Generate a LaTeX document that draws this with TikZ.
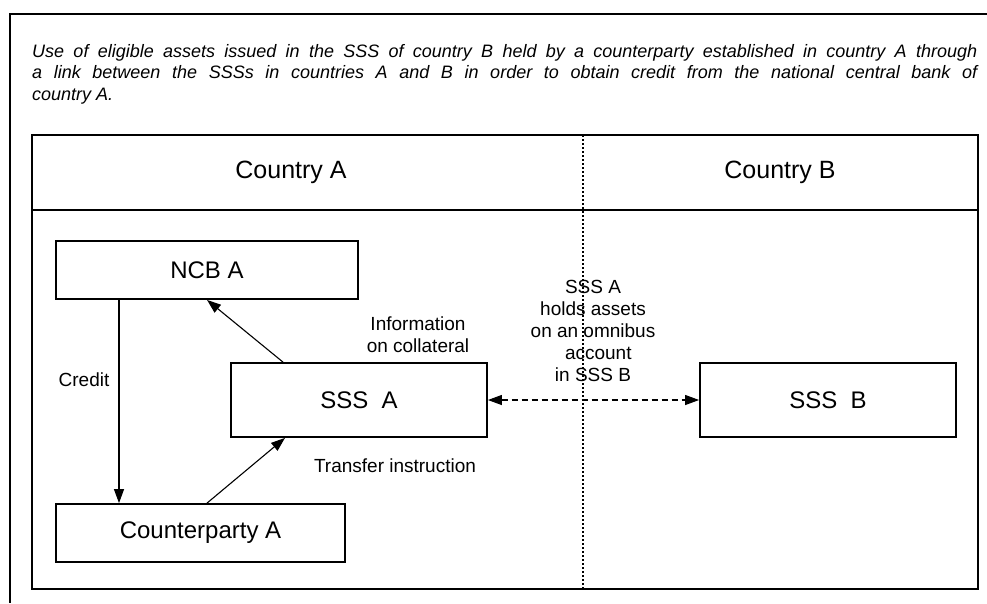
\documentclass[tikz,border=0pt]{standalone}
\usepackage{fontspec}
\setmainfont{Liberation Sans}
\usetikzlibrary{arrows.meta}
\begin{document}
\begin{tikzpicture}[x=1pt,y=-1pt,
  box/.style={draw,line width=1.8pt,minimum width=#1,inner sep=0pt,font=\fontsize{24}{28}\selectfont},
  lbl/.style={font=\fontsize{19}{22}\selectfont,align=center,inner sep=0pt},
  tip/.style={},
  arr/.style={line width=1.1pt,-{Triangle[length=14pt,width=10pt]}},
  hdr/.style={font=\fontsize{25}{29}\selectfont,inner sep=0pt}]
\useasboundingbox (0,0) rectangle (987,603);
% outer frame (clipped)
\draw[line width=2.5pt] (987,14) -- (10,14) -- (10,603);
% title
\node[anchor=base west,inner sep=0pt] (title) at (32,57) {\begin{minipage}[t]{945pt}\fontsize{18}{21.5}\selectfont\itshape
Use of eligible assets issued in the SSS of country B held by a counterparty established in country A through\linebreak
a link between the SSSs in countries A and B in order to obtain credit from the national central bank of\linebreak
country A.\end{minipage}};
% inner frame
\draw[line width=2pt] (32,135) rectangle (978,589);
\draw[line width=2pt] (32,210) -- (978,210);
\draw[line width=1.2pt,dash pattern=on 1.5pt off 2.5pt] (583,135) -- (583,589);
\node[hdr] (ca) at (291,172) {Country A};
\node[hdr] (cb) at (780,172) {Country B};
% boxes
\node[box=302pt,minimum height=58pt] (ncb) at (207,270) {NCB A};
\node[box=256pt,minimum height=74pt] (sssa) at (359,400) {SSS\ \ A};
\node[box=256pt,minimum height=74pt] (sssb) at (828,400) {SSS\ \ B};
\node[box=289pt,minimum height=58pt] (cp) at (200.5,533) {Counterparty A};
% connectors
\draw[arr] (ncb.south -| 119,0) -- (cp.north -| 119,0);
\draw[arr] (sssa.north -| 283,0) -- (ncb.south -| 207,0);
\draw[arr] (cp.north -| 207,0) -- (sssa.south -| 285,0);
\draw[line width=1.1pt,dash pattern=on 6pt off 4pt,{Triangle[length=14pt,width=10pt]}-{Triangle[length=14pt,width=10pt]}] (sssa.east) -- (sssb.west);
% labels
\node[lbl] (lcredit) at (84,380) {Credit};
\node[lbl] (linfo) at (418,335) {Information\\on collateral};
\node[lbl] (ltrans) at (395,466) {Transfer instruction};
\node[lbl] (lomni) at (593,331) {SSS A\\holds assets\\on an omnibus\\\ \ account\\in SSS B};
\end{tikzpicture}
\end{document}
